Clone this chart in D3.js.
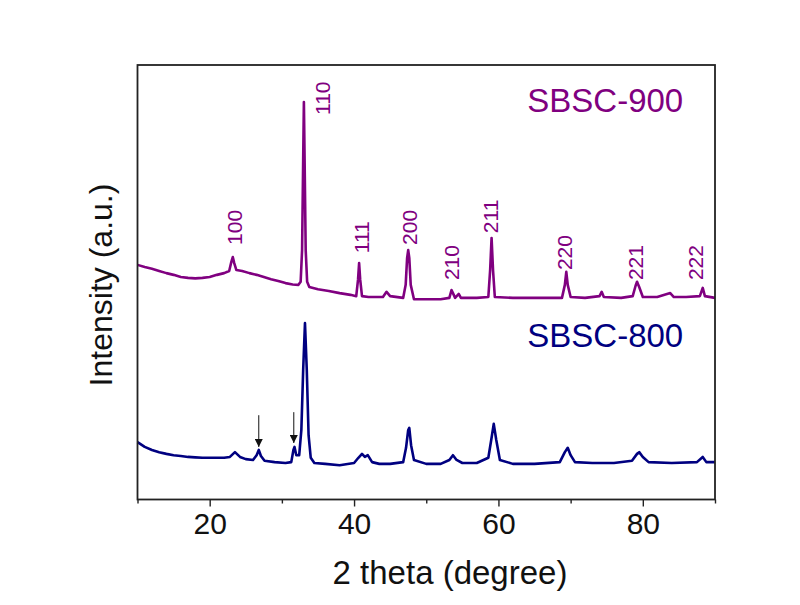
<!DOCTYPE html>
<html>
<head>
<meta charset="utf-8">
<script src="https://cdn.jsdelivr.net/npm/d3@7"></script>
<style>
  html, body { margin: 0; padding: 0; background: #fff; }
  svg { display: block; }
  text { font-family: "Liberation Sans", Arial, sans-serif; }
</style>
</head>
<body>
<svg id="chart" width="800" height="605"></svg>
<script>
// ---- data (2θ in degrees, intensity in arbitrary units) ----
const twoTheta900 = [10,11,12,13,14,15,16,17,18,19,20,21,22,22.7,23.0,23.2,23.4,23.7,24.5,25.5,26.5,27.5,28.5,29.5,30.5,31.5,32.3,32.6,32.8,32.95,33.05,33.15,33.3,33.5,33.8,35,36.5,38,39.5,40.3,40.55,40.7,40.85,41.1,42,44,44.5,45,46.8,47.15,47.35,47.5,47.65,47.85,48.3,50,52,53.2,53.5,53.7,54.0,54.5,54.8,57,58.6,58.85,59.05,59.25,59.5,62,65,68.8,69.2,69.4,69.6,70.0,72,74.0,74.3,74.6,77,78.6,79.0,79.2,79.5,80.0,82,83.8,84.3,86,87.9,88.3,88.6,90];
const intensity900 = [54.0,53.5,53.1,52.6,52.1,51.7,51.2,51.0,50.9,51.0,51.2,51.7,52.1,52.6,54.7,55.8,54.4,52.8,52.6,52.1,51.7,51.2,50.7,50.3,49.8,49.5,49.4,50.1,57.4,78.1,91.5,78.1,57.4,50.1,48.9,48.4,48.0,47.5,47.1,46.8,50.6,54.4,50.6,46.8,46.6,46.6,47.8,46.8,46.4,49.4,55.6,57.4,55.6,49.4,46.1,46.1,46.1,46.4,48.2,47.5,46.4,47.3,46.4,46.4,46.6,52.8,60.2,52.8,46.6,46.4,46.4,46.4,49.4,52.4,49.4,46.6,46.4,46.8,47.8,46.6,46.4,46.8,49.2,50.1,48.9,46.6,46.6,47.5,46.6,46.6,46.8,48.7,46.8,46.4];

const twoTheta800 = [10,11,12,13,14,15,16,17,18,19,20,21,22,22.8,23.5,24.2,25,26,26.5,26.8,27.1,27.6,29,30.5,31.3,31.6,31.75,32.0,32.4,32.7,32.95,33.2,33.45,33.7,34.0,34.5,36,38,40,40.6,41.1,41.5,41.9,42.5,43.5,45,46.8,47.2,47.5,47.65,47.9,48.3,50,52,53.2,53.7,54.2,55,57,58.6,59.0,59.35,59.7,60.2,62,65,68.5,69.2,69.6,70.0,70.6,73,76,78.5,79.2,79.5,80.0,80.8,84,87.5,88.3,88.8,90];
const intensity800 = [13.2,12.1,11.4,10.9,10.5,10.2,10.0,9.8,9.7,9.6,9.6,9.6,9.6,9.8,10.9,9.8,9.3,9.1,10.2,11.4,10.0,8.9,8.6,8.4,8.6,11.4,12.1,10.2,10.2,16.0,29.8,40.6,29.8,14.8,9.6,8.4,8.2,7.9,8.4,9.6,10.5,9.8,10.2,8.6,8.2,8.2,8.6,11.9,16.0,16.5,12.5,9.1,8.2,8.2,9.1,10.2,9.1,8.4,8.4,9.6,13.7,17.4,13.7,9.1,8.2,8.2,8.6,10.9,11.9,10.2,8.6,8.4,8.4,8.9,10.5,10.9,9.8,8.6,8.4,8.6,9.8,8.6,8.6];

// Miller-index labels for SBSC-900: text, label 2θ (baseline), label bottom intensity
const hklLabels = ["100","110","111","200","210","211","220","221","222"];
const hklTheta  = [24.5, 36.7, 42.1, 48.7, 54.5, 59.9, 70.2, 80.0, 88.3];
const hklLevel  = [58.6, 88.5, 56.7, 58.6, 50.5, 61.3, 52.8, 50.5, 50.5];

// impurity arrows for SBSC-800: 2θ, start level, tip level
const arrowTheta = [26.8, 31.65];
const arrowFrom  = [19.4, 20.1];
const arrowTo    = [12.1, 13.0];

const seriesNames = ["SBSC-900", "SBSC-800"];
const seriesColors = ["#800080", "#000080"];
const nameTheta = [64.0, 64.0];
const nameLevel = [89.2, 35.0];

const xMajorTicks = [20, 40, 60, 80];
const xMinorTicks = [10, 30, 50, 70, 90];

// ---- layout ----
const svg = d3.select("#chart");
const L = 137.5, R = 715, T = 65, B = 499.5;
const x = d3.scaleLinear().domain([10, 90]).range([L, R]);
const y = d3.scaleLinear().domain([0, 100]).range([B, T]);

const line = d3.line().x(d => x(d[0])).y(d => y(d[1]));

const s900 = twoTheta900.map((t, i) => [t, intensity900[i]]);
const s800 = twoTheta800.map((t, i) => [t, intensity800[i]]);

svg.append("path").datum(s900)
  .attr("d", line).attr("fill", "none")
  .attr("stroke", seriesColors[0]).attr("stroke-width", 2.6)
  .attr("stroke-linejoin", "round");
svg.append("path").datum(s800)
  .attr("d", line).attr("fill", "none")
  .attr("stroke", seriesColors[1]).attr("stroke-width", 2.6)
  .attr("stroke-linejoin", "round");

// frame
svg.append("rect").attr("x", L).attr("y", T)
  .attr("width", R - L).attr("height", B - T)
  .attr("fill", "none").attr("stroke", "#222").attr("stroke-width", 1.8);

// x axis (major)
const xAxis = d3.axisBottom(x).tickValues(xMajorTicks).tickSize(7).tickSizeOuter(0).tickPadding(6);
const gx = svg.append("g").attr("transform", `translate(0,${B})`).call(xAxis);
gx.select(".domain").remove();
gx.selectAll(".tick line").attr("stroke", "#222").attr("stroke-width", 1.4);
gx.selectAll(".tick text").attr("font-size", 30).attr("fill", "#111")
  .attr("font-family", "Liberation Sans, Arial, sans-serif");

// x axis (minor)
const xMinor = d3.axisBottom(x).tickValues(xMinorTicks).tickSize(4).tickSizeOuter(0).tickFormat("");
const gm = svg.append("g").attr("transform", `translate(0,${B})`).call(xMinor);
gm.select(".domain").remove();
gm.selectAll(".tick line").attr("stroke", "#222").attr("stroke-width", 1.4);

// axis titles
svg.append("text").attr("x", 450).attr("y", 584)
  .attr("text-anchor", "middle").attr("font-size", 33).attr("fill", "#111")
  .text("2 theta (degree)");
svg.append("text").attr("transform", "translate(112,285) rotate(-90)")
  .attr("text-anchor", "middle").attr("font-size", 32).attr("fill", "#111")
  .text("Intensity (a.u.)");

// hkl labels
svg.append("g").selectAll("text").data(hklLabels).join("text")
  .attr("transform", (d, i) => `translate(${x(hklTheta[i])},${y(hklLevel[i])}) rotate(-90)`)
  .attr("font-size", 21).attr("fill", seriesColors[0])
  .text(d => d);

// series names
svg.append("g").selectAll("text").data(seriesNames).join("text")
  .attr("x", (d, i) => x(nameTheta[i])).attr("y", (d, i) => y(nameLevel[i]))
  .attr("font-size", 33).attr("fill", (d, i) => seriesColors[i])
  .text(d => d);

// arrows
const defs = svg.append("defs");
defs.append("marker").attr("id", "ah").attr("viewBox", "0 0 10 10")
  .attr("refX", 10).attr("refY", 5).attr("markerWidth", 8).attr("markerHeight", 8)
  .attr("markerUnits", "userSpaceOnUse").attr("orient", "auto")
  .append("path").attr("d", "M0,0 L10,5 L0,10 Z").attr("fill", "#111");
svg.append("g").selectAll("line").data(arrowTheta).join("line")
  .attr("x1", d => x(d)).attr("x2", d => x(d))
  .attr("y1", (d, i) => y(arrowFrom[i])).attr("y2", (d, i) => y(arrowTo[i]))
  .attr("stroke", "#111").attr("stroke-width", 1)
  .attr("marker-end", "url(#ah)");
</script>
</body>
</html>
